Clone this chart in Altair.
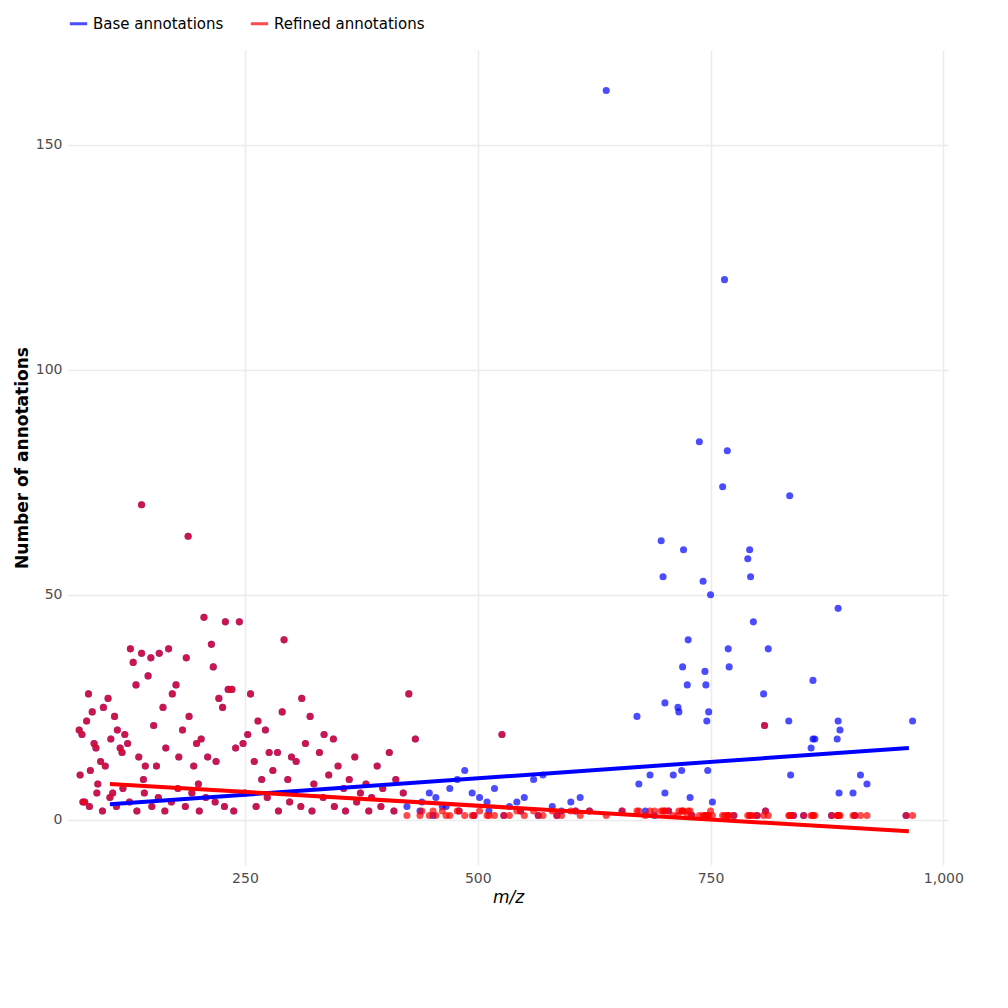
import altair as alt
import pandas as pd

# m/z of each feature, base and refined annotation counts
mz = [72, 73, 75, 78, 80, 82, 84, 86, 88, 90, 92, 95, 98, 100, 103, 106, 108, 110, 113, 116,
      118, 121, 124, 127, 130, 133, 136, 139, 141, 143, 146, 149, 152, 155, 158, 162, 165, 168,
      172, 176, 179, 183, 187, 190, 195, 198, 200, 203, 206, 210, 214, 216, 219, 222, 226, 229,
      232, 236, 240, 244, 248, 253, 256, 260, 264, 268, 272, 276, 280, 285, 290, 292, 296, 300,
      305, 311, 315, 320, 324, 330, 335, 340, 345, 350, 356, 362, 368, 374, 380, 386, 392, 398,
      405, 412, 420, 426, 433, 440, 448, 455, 462, 470, 478, 486, 494, 502, 510, 518, 526, 534,
      542, 550, 560, 570, 580, 590, 600, 610, 620,
      76, 83, 91, 97, 105, 112, 119, 126, 134, 142, 150, 157, 164, 171, 178, 186, 193, 201, 208,
      218, 228, 238, 250, 262, 274, 286, 298, 310, 322, 334, 346, 358, 370, 383, 396, 410, 424,
      438, 452, 466, 480, 496, 512, 528, 546, 565, 585, 605,
      638, 765, 738, 768, 763, 835, 139, 189, 697, 721, 792, 699, 793, 742, 750, 790, 887, 796,
      726, 769, 812, 770, 720, 744, 860, 725, 745, 807, 701, 671, 715, 716, 748, 746, 834, 887,
      967, 808, 889, 860, 862, 886, 858, 747, 719, 685, 710, 836, 911, 918, 701, 888, 903, 752,
      728, 809, 839, 960, 673, 655, 680, 690, 705, 730, 775, 800, 850, 880, 905]
base = [20, 10, 19, 4, 22, 28, 11, 24, 17, 16, 8, 13, 25, 12, 27, 18, 6, 23, 20, 16,
        15, 19, 17, 38, 35, 30, 14, 37, 9, 12, 32, 36, 21, 12, 37, 25, 16, 38, 28, 30,
        14, 20, 36, 23, 12, 17, 8, 18, 45, 14, 39, 34, 13, 27, 25, 44, 29, 29, 16, 44,
        17, 19, 28, 13, 22, 9, 20, 15, 11, 15, 24, 40, 9, 14, 13, 27, 17, 23, 8, 15,
        19, 10, 18, 12, 7, 9, 14, 6, 8, 5, 12, 7, 15, 9, 6, 28, 18, 4, 6, 5,
        3, 7, 9, 11, 6, 5, 4, 7, 19, 3, 4, 5, 9, 10, 3, 2, 4, 5, 2,
        4, 3, 6, 2, 5, 3, 7, 4, 2, 6, 3, 5, 2, 4, 7, 3, 6, 2, 5,
        4, 3, 2, 6, 3, 5, 2, 4, 3, 2, 5, 3, 2, 4, 2, 3, 2, 3,
        2, 1, 3, 2, 1, 2, 1, 2, 1, 1, 2,
        162, 120, 84, 82, 74, 72, 70, 63, 62, 60, 60, 54, 54, 53, 50, 58, 47, 44,
        40, 38, 38, 34, 34, 33, 31, 30, 30, 28, 26, 23, 25, 24, 24, 22, 22, 22,
        22, 21, 20, 18, 18, 18, 16, 11, 11, 10, 10, 10, 10, 8, 6, 6, 6, 4,
        5, 2, 1, 1, 8, 2, 2, 1, 2, 1, 1, 1, 1, 1, 1]
refined = [20, 10, 19, 4, 22, 28, 11, 24, 17, 16, 8, 13, 25, 12, 27, 18, 6, 23, 20, 16,
           15, 19, 17, 38, 35, 30, 14, 37, 9, 12, 32, 36, 21, 12, 37, 25, 16, 38, 28, 30,
           14, 20, 36, 23, 12, 17, 8, 18, 45, 14, 39, 34, 13, 27, 25, 44, 29, 29, 16, 44,
           17, 19, 28, 13, 22, 9, 20, 15, 11, 15, 24, 40, 9, 14, 13, 27, 17, 23, 8, 15,
           19, 10, 18, 12, 7, 9, 14, 6, 8, 5, 12, 7, 15, 9, 6, 28, 18, 2, 1, 1,
           2, 1, 2, 1, 1, 2, 1, 1, 19, 1, 2, 1, 2, 1, 2, 1, 2, 1, 2,
           4, 3, 6, 2, 5, 3, 7, 4, 2, 6, 3, 5, 2, 4, 7, 3, 6, 2, 5,
           4, 3, 2, 6, 3, 5, 2, 4, 3, 2, 5, 3, 2, 4, 2, 3, 2, 1,
           1, 2, 1, 2, 1, 1, 1, 2, 1, 1, 2,
           1, 1, 1, 1, 1, 1, 70, 63, 2, 2, 1, 2, 1, 1, 2, 1, 1, 1,
           2, 1, 1, 1, 2, 1, 1, 1, 1, 1, 2, 2, 1, 2, 1, 1, 1, 1,
           1, 21, 1, 1, 1, 1, 1, 1, 2, 2, 1, 1, 1, 1, 2, 1, 1, 1,
           2, 2, 1, 1, 2, 2, 1, 2, 2, 1, 1, 1, 1, 1, 1]

# fitted trend lines (end points)
fit_mz = [105, 963]
base_fit = [3.5, 16]
refined_fit = [8, -2.5]

labels = ["Base annotations", "Refined annotations"]
colors = ["#0000ff", "#ff0000"]

pts = pd.concat([
    pd.DataFrame({"mz": mz, "n": base, "type": labels[0]}),
    pd.DataFrame({"mz": mz, "n": refined, "type": labels[1]}),
])
fits = pd.concat([
    pd.DataFrame({"mz": fit_mz, "n": base_fit, "type": labels[0]}),
    pd.DataFrame({"mz": fit_mz, "n": refined_fit, "type": labels[1]}),
])

color = alt.Color("type:N", scale=alt.Scale(domain=labels, range=colors),
                  legend=alt.Legend(title=None, orient="top", symbolType="stroke",
                                    symbolStrokeWidth=3, labelFontSize=15, symbolSize=300,
                                    columnPadding=20))
x = alt.X("mz:Q", scale=alt.Scale(domain=[60, 1005], nice=False),
          axis=alt.Axis(values=[250, 500, 750, 1000], title="m/z", titleFontStyle="italic",
                        titleFontWeight="normal", titleFontSize=17))
y = alt.Y("n:Q", scale=alt.Scale(domain=[-10, 171], nice=False),
          axis=alt.Axis(values=[0, 50, 100, 150], title="Number of annotations",
                        titleFontSize=17, titleFontWeight="bold"))

points = alt.Chart(pts).mark_circle(size=50, opacity=0.7).encode(x=x, y=y, color=color)
lines = alt.Chart(fits).mark_line(strokeWidth=4).encode(x=x, y=y, color=color)

chart = (points + lines).properties(width=880, height=815).configure_view(
    strokeWidth=0
).configure_axis(
    domain=False, ticks=False, grid=True, gridColor="#ebebeb", gridWidth=1.5,
    labelFontSize=14, labelColor="#4d4d4d", titleColor="black", labelPadding=6,
    labelFont="DejaVu Sans", titleFont="DejaVu Sans"
).configure_legend(labelFont="DejaVu Sans")

chart.save("out.html", embed_options={"renderer": "svg", "actions": False})
